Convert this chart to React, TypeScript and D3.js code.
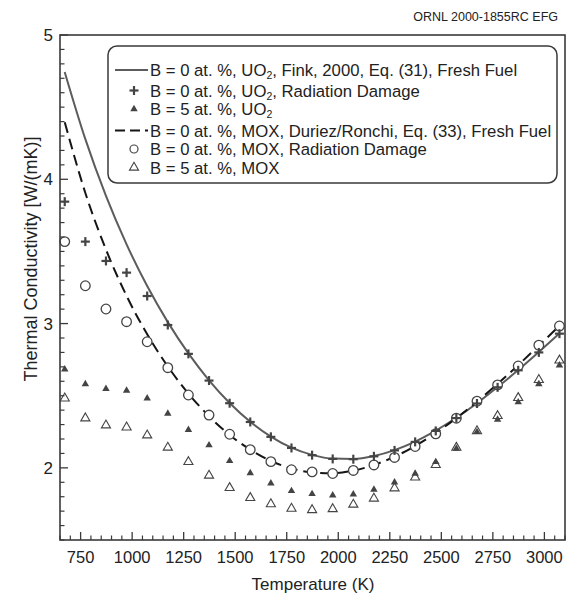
import React from "react";
import * as d3 from "d3";

// Temperatures (K) of the plotted points
const temperatures = [673, 773, 873, 973, 1073, 1173, 1273, 1373, 1473, 1573, 1673, 1773, 1873, 1973, 2073, 2173, 2273, 2373, 2473, 2573, 2673, 2773, 2873, 2973, 3073];

// B = 0 at.%, UO2, Fink 2000, Eq. (31), fresh fuel (solid line)
const uo2Fresh = [4.743, 4.278, 3.885, 3.549, 3.26, 3.01, 2.793, 2.607, 2.45, 2.32, 2.217, 2.14, 2.09, 2.064, 2.062, 2.082, 2.123, 2.182, 2.258, 2.347, 2.448, 2.56, 2.678, 2.803, 2.932];
// B = 0 at.%, MOX, Duriez/Ronchi, Eq. (33), fresh fuel (dashed line)
const moxFresh = [4.396, 3.905, 3.513, 3.192, 2.926, 2.703, 2.515, 2.358, 2.228, 2.126, 2.048, 1.996, 1.968, 1.963, 1.981, 2.02, 2.077, 2.152, 2.242, 2.345, 2.459, 2.582, 2.712, 2.847, 2.985];
// B = 0 at.%, UO2, radiation damage (+)
const uo2Rad = [3.845, 3.568, 3.434, 3.353, 3.191, 2.99, 2.79, 2.605, 2.448, 2.318, 2.215, 2.138, 2.088, 2.062, 2.06, 2.08, 2.121, 2.18, 2.256, 2.345, 2.446, 2.558, 2.676, 2.8, 2.93];
// B = 0 at.%, MOX, radiation damage (open circles)
const moxRad = [3.568, 3.262, 3.101, 3.013, 2.874, 2.694, 2.505, 2.366, 2.233, 2.126, 2.043, 1.987, 1.972, 1.961, 1.982, 2.02, 2.072, 2.148, 2.236, 2.344, 2.462, 2.575, 2.706, 2.85, 2.983];
// B = 5 at.%, UO2 (filled triangles)
const uo2B5 = [2.683, 2.58, 2.548, 2.535, 2.482, 2.376, 2.263, 2.157, 2.048, 1.964, 1.893, 1.84, 1.819, 1.809, 1.816, 1.85, 1.9, 1.961, 2.041, 2.134, 2.249, 2.335, 2.455, 2.58, 2.71];
// B = 5 at.%, MOX (open triangles)
const moxB5 = [2.482, 2.344, 2.295, 2.281, 2.226, 2.141, 2.041, 1.947, 1.861, 1.792, 1.749, 1.718, 1.708, 1.715, 1.746, 1.788, 1.859, 1.934, 2.021, 2.14, 2.255, 2.36, 2.485, 2.61, 2.745];

const xMajorTicks = [750, 1000, 1250, 1500, 1750, 2000, 2250, 2500, 2750, 3000];
const yMajorTicks = [2, 3, 4, 5];
const xDomain = [650, 3100];
const yDomain = [1.5, 5];

const legendLabels = [
  { pre: "B = 0 at. %, UO", sub: "2", post: ", Fink, 2000, Eq. (31), Fresh Fuel", kind: "solid" },
  { pre: "B = 0 at. %, UO", sub: "2", post: ", Radiation Damage", kind: "plus" },
  { pre: "B = 5 at. %, UO", sub: "2", post: "", kind: "ftri" },
  { pre: "B = 0 at. %, MOX, Duriez/Ronchi, Eq. (33), Fresh Fuel", sub: "", post: "", kind: "dash" },
  { pre: "B = 0 at. %, MOX, Radiation Damage", sub: "", post: "", kind: "circle" },
  { pre: "B = 5 at. %, MOX", sub: "", post: "", kind: "otri" },
];
const legendRowY = [70, 90.5, 109, 130.5, 149, 167.5];

const W = 575, H = 593;
const L = 60, R = 565, T = 35, B = 540;
const FONT = "'Liberation Sans', Arial, Helvetica, sans-serif";
const INK = "#3a3a3a";

export default function App() {
  const x = d3.scaleLinear().domain(xDomain).range([L, R]);
  const y = d3.scaleLinear().domain(yDomain).range([B, T]);
  const line = d3.line<number>().x((_, i) => x(temperatures[i])).y((d) => y(d)).curve(d3.curveMonotoneX);
  const triF = d3.symbol().type(d3.symbolTriangle).size(24)()!;
  const triO = d3.symbol().type(d3.symbolTriangle).size(36)()!;

  const xMinor = d3.range(650, 3101, 50).filter((v) => !xMajorTicks.includes(v));
  const yMinor = d3.range(15, 51, 1).map((v) => v / 10).filter((v) => !yMajorTicks.includes(v));

  const plus = (cx: number, cy: number, k: string) => (
    <g key={k} stroke="#444" strokeWidth={2.2}>
      <line x1={cx - 4.5} x2={cx + 4.5} y1={cy} y2={cy} />
      <line x1={cx} x2={cx} y1={cy - 4.5} y2={cy + 4.5} />
    </g>
  );

  const legX = 108, legY = 46, legW = 449, legH = 137;

  return (
    <svg width={W} height={H} style={{ position: "absolute", left: 0, top: 0, background: "#fff" }} fontFamily={FONT}>
      <rect x={0} y={0} width={W} height={H} fill="#fff" />
      <text x={558} y={21} fontSize={12.5} textAnchor="end" fill="#222">ORNL 2000-1855RC EFG</text>

      {/* curves */}
      <path d={line(uo2Fresh)!} fill="none" stroke="#5c5c5c" strokeWidth={2} />
      <path d={line(moxFresh)!} fill="none" stroke="#151515" strokeWidth={2} strokeDasharray="11,6" />

      {/* markers */}
      {uo2B5.map((v, i) => (
        <path key={"f" + i} d={triF} transform={`translate(${x(temperatures[i])},${y(v)})`} fill="#444" />
      ))}
      {moxB5.map((v, i) => (
        <path key={"o" + i} d={triO} transform={`translate(${x(temperatures[i])},${y(v)})`} fill="none" stroke="#444" strokeWidth={1.1} />
      ))}
      {moxRad.map((v, i) => (
        <circle key={"c" + i} cx={x(temperatures[i])} cy={y(v)} r={4.8} fill="#fff" stroke="#444" strokeWidth={1.3} />
      ))}
      {uo2Rad.map((v, i) => plus(x(temperatures[i]), y(v), "p" + i))}

      {/* frame */}
      <rect x={L} y={T} width={R - L} height={B - T} fill="none" stroke={INK} strokeWidth={1.6} />

      {/* x ticks */}
      {xMinor.map((v) => (
        <line key={"xm" + v} x1={x(v)} x2={x(v)} y1={B} y2={B - 4.5} stroke={INK} strokeWidth={1.2} />
      ))}
      {xMajorTicks.map((v) => (
        <g key={"xM" + v}>
          <line x1={x(v)} x2={x(v)} y1={B} y2={B - 8} stroke={INK} strokeWidth={1.3} />
          <text x={x(v)} y={563} fontSize={16.5} textAnchor="middle" fill="#222">{v}</text>
        </g>
      ))}
      {/* y ticks */}
      {yMinor.map((v) => (
        <line key={"ym" + v} x1={L} x2={L + 4.5} y1={y(v)} y2={y(v)} stroke={INK} strokeWidth={1.2} />
      ))}
      {yMajorTicks.map((v) => (
        <g key={"yM" + v}>
          <line x1={L} x2={L + 8} y1={y(v)} y2={y(v)} stroke={INK} strokeWidth={1.3} />
          <text x={53} y={y(v) + 6} fontSize={17} textAnchor="end" fill="#222">{v}</text>
        </g>
      ))}

      {/* axis titles */}
      <text x={313} y={590} fontSize={17} textAnchor="middle" fill="#222">Temperature (K)</text>
      <text transform={`translate(37,259) rotate(-90)`} fontSize={18} textAnchor="middle" fill="#222">Thermal Conductivity [W/(mK)]</text>

      {/* legend */}
      <rect x={legX} y={legY} width={legW} height={legH} rx={9} fill="#fff" stroke={INK} strokeWidth={1.5} />
      {legendLabels.map((d, i) => {
        const cy = legendRowY[i];
        let sym: React.ReactNode = null;
        if (d.kind === "solid") sym = <line x1={115} x2={148} y1={cy} y2={cy} stroke="#5c5c5c" strokeWidth={2} />;
        if (d.kind === "dash") sym = <line x1={115} x2={148} y1={cy} y2={cy} stroke="#151515" strokeWidth={2} strokeDasharray="10,5" />;
        if (d.kind === "plus") sym = plus(134, cy, "lp");
        if (d.kind === "ftri") sym = <path d={triF} transform={`translate(134,${cy})`} fill="#444" />;
        if (d.kind === "otri") sym = <path d={triO} transform={`translate(134,${cy})`} fill="none" stroke="#444" strokeWidth={1.1} />;
        if (d.kind === "circle") sym = <circle cx={134} cy={cy} r={4} fill="#fff" stroke="#444" strokeWidth={1.2} />;
        return (
          <g key={"lg" + i}>
            {sym}
            <text x={150} y={cy + 6} fontSize={16.7} fill="#222">
              {d.pre}
              {d.sub && <tspan fontSize={10.5} dy={3}>{d.sub}</tspan>}
              {d.post && <tspan dy={-3}>{d.post}</tspan>}
            </text>
          </g>
        );
      })}
    </svg>
  );
}
